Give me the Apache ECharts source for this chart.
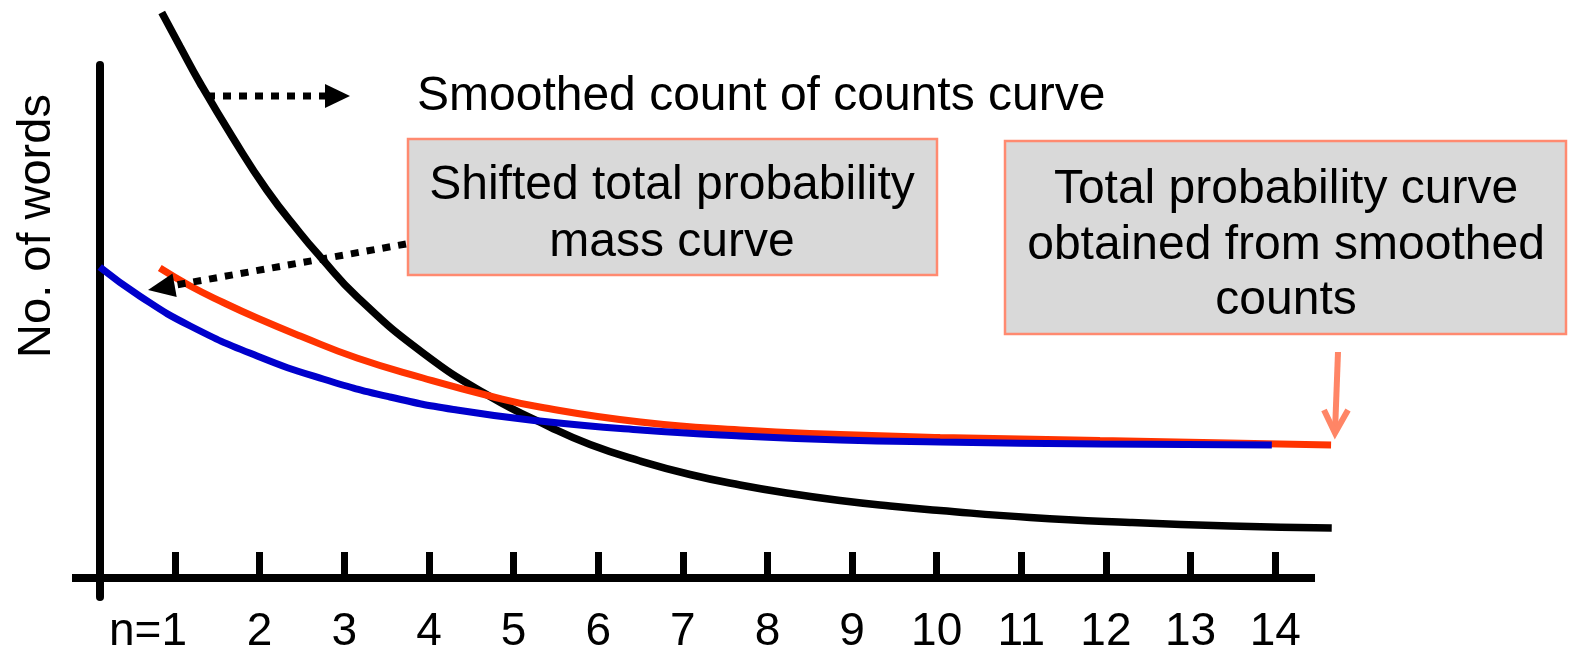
<!DOCTYPE html>
<html>
<head>
<meta charset="utf-8">
<script src="https://cdn.jsdelivr.net/npm/echarts@6/dist/echarts.min.js"></script>
<style>
html,body{margin:0;padding:0;background:#fff;}
#chart{width:1570px;height:650px;}
</style>
</head>
<body>
<div id="chart"></div>
<script>
// ---- data (n on x, arbitrary "no. of words" units on y) ----
var tickValues = [1,2,3,4,5,6,7,8,9,10,11,12,13,14];
var tickLabels = ['n=1','2','3','4','5','6','7','8','9','10','11','12','13','14'];
var axisSpan = [-0.2175, 14.4704];   // extent of the drawn horizontal axis line

var countX = [0.843,1.059,1.295,1.685,2.084,2.477,2.713,3.147,3.930,4.722,5.431,5.904,6.495,7.085,7.676,8.267,8.858,9.448,10.039,11.103,12.284,13.466,14.668];
var countY = [113.1,106.3,99.0,88.0,77.6,69.0,64.3,56.3,45.0,36.3,30.2,26.7,23.4,20.7,18.6,16.9,15.5,14.4,13.5,12.1,11.1,10.4,10.0];

var totalX = [0.82,1.18,1.57,1.97,2.48,3.15,3.93,4.72,5.31,6.50,7.68,8.86,10.04,11.93,14.66];
var totalY = [62.0,58.4,55.1,52.0,48.4,44.0,40.0,36.4,34.2,31.2,29.6,28.7,28.1,27.5,26.6];

var shiftedX = [0.11,0.59,1.18,1.97,2.75,3.54,4.33,5.31,6.50,7.68,8.86,10.04,11.93,13.96];
var shiftedY = [62.2,56.3,50.4,44.4,39.8,36.2,33.6,31.4,29.6,28.4,27.6,27.2,26.8,26.6];

function pairs(xs, ys){ return xs.map(function(x,i){ return [x, ys[i]]; }); }

var FONT = 'Liberation Sans, Arial, sans-serif';
var chart = echarts.init(document.getElementById('chart'));

var option = {
  animation: false,
  backgroundColor: '#ffffff',
  grid: {left: 72, right: 235, top: 65, bottom: 53, containLabel: false, outerBoundsMode: 'none'},
  xAxis: {
    type: 'value',
    min: -0.2175, max: 14.7065,
    axisLine: {show: false, onZero: true},
    axisTick: {show: true, inside: true, length: 26, customValues: tickValues,
               lineStyle: {color: '#000', width: 7}},
    axisLabel: {show: true, customValues: tickValues, margin: 12, color: '#000',
                fontFamily: FONT, fontSize: 46,
                formatter: function(v){
                  var i = tickValues.indexOf(v);
                  if (i === 0) return '{n|' + tickLabels[0] + '}';
                  return i >= 0 ? tickLabels[i] : '';
                },
                rich: {n: {fontFamily: FONT, fontSize: 46, color: '#000', padding: [0, 54, 0, 0]}}},
    splitLine: {show: false}
  },
  yAxis: {
    type: 'value',
    min: -3.8, max: 102.6,
    offset: -28,
    axisLine: {show: true, onZero: false, lineStyle: {color: '#000', width: 8}},
    axisTick: {show: false},
    axisLabel: {show: false},
    splitLine: {show: false}
  },
  series: [
    {type: 'line', name: 'x axis', data: [[axisSpan[0], 0], [axisSpan[1], 0]],
     showSymbol: false, silent: true, z: 2, lineStyle: {color: '#000', width: 8, cap: 'butt'}},
    {type: 'line', name: 'Smoothed count of counts', data: pairs(countX, countY),
     smooth: 0.5, showSymbol: false, clip: false, z: 3,
     lineStyle: {color: '#000000', width: 7.5}},
    {type: 'line', name: 'Total probability', data: pairs(totalX, totalY),
     smooth: 0.5, showSymbol: false, clip: false, z: 4,
     lineStyle: {color: '#ff3300', width: 7}},
    {type: 'line', name: 'Shifted total probability', data: pairs(shiftedX, shiftedY),
     smooth: 0.5, showSymbol: false, clip: false, z: 5,
     lineStyle: {color: '#0000cc', width: 7}}
  ],
  graphic: [
    {type: 'text', x: 37, y: 226, rotation: Math.PI/2, z: 10,
     style: {text: 'No. of words', fontFamily: FONT, fontSize: 47, fill: '#000',
             align: 'center', verticalAlign: 'middle'}},
    {type: 'text', x: 417, y: 97, z: 10,
     style: {text: 'Smoothed count of counts curve', fontFamily: FONT, fontSize: 48, fill: '#000',
             align: 'left', verticalAlign: 'middle'}},
    {type: 'line', z: 10, shape: {x1: 207, y1: 96, x2: 326, y2: 96},
     style: {stroke: '#000', lineWidth: 7, lineDash: [8, 8]}},
    {type: 'polygon', z: 10, shape: {points: [[325,84],[350,96],[325,108]]}, style: {fill: '#000'}},
    {type: 'rect', z: 8, shape: {x: 408, y: 139, width: 529, height: 136},
     style: {fill: '#d9d9d9', stroke: '#ff8a70', lineWidth: 2.5}},
    {type: 'text', x: 672, y: 214, z: 10,
     style: {text: 'Shifted total probability\nmass curve', fontFamily: FONT, fontSize: 48,
             lineHeight: 57, fill: '#000', align: 'center', verticalAlign: 'middle'}},
    {type: 'line', z: 10, shape: {x1: 406, y1: 244, x2: 176, y2: 285},
     style: {stroke: '#000', lineWidth: 7, lineDash: [8, 8]}},
    {type: 'polygon', z: 10, shape: {points: [[148,290],[176.7,297.1],[172.5,273.5]]}, style: {fill: '#000'}},
    {type: 'rect', z: 8, shape: {x: 1005, y: 141, width: 561, height: 193},
     style: {fill: '#d9d9d9', stroke: '#ff8a70', lineWidth: 2.5}},
    {type: 'text', x: 1286, y: 245.5, z: 10,
     style: {text: 'Total probability curve\nobtained from smoothed\ncounts', fontFamily: FONT, fontSize: 48,
             lineHeight: 55.5, fill: '#000', align: 'center', verticalAlign: 'middle'}},
    {type: 'line', z: 10, shape: {x1: 1338, y1: 352, x2: 1335, y2: 432},
     style: {stroke: '#ff8566', lineWidth: 6}},
    {type: 'polyline', z: 10, shape: {points: [[1324,410],[1335,433],[1348,410]]},
     style: {stroke: '#ff8566', lineWidth: 6, fill: null}}
  ]
};
chart.setOption(option);
</script>
</body>
</html>
